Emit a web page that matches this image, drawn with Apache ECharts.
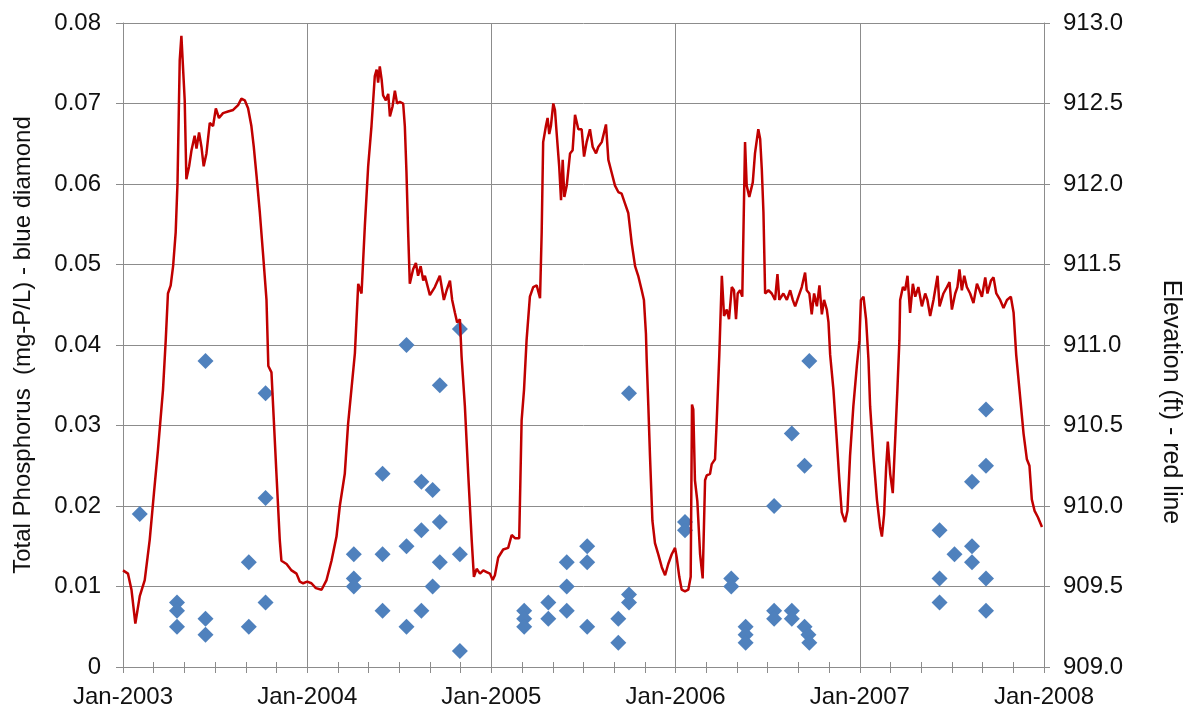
<!DOCTYPE html>
<html>
<head>
<meta charset="utf-8">
<title>Total Phosphorus and Elevation, 2003-2007</title>
<script src="https://cdn.jsdelivr.net/npm/echarts@6/dist/echarts.min.js"></script>
<style>
  html, body { margin: 0; padding: 0; background: #fff; }
  #chart { width: 1189px; height: 715px; }
</style>
</head>
<body>
<div id="chart"></div>
<script>
// Sample dates as decimal years, with the measured total phosphorus (mg-P/L)
const sampleDates = [
  2003.091,
  2003.293, 2003.293, 2003.293,
  2003.448, 2003.448, 2003.448,
  2003.683, 2003.683,
  2003.774, 2003.774, 2003.774,
  2004.253, 2004.253, 2004.253,
  2004.409, 2004.409, 2004.409,
  2004.539, 2004.539, 2004.539,
  2004.620, 2004.620, 2004.620,
  2004.681, 2004.681,
  2004.720, 2004.720, 2004.720,
  2004.829, 2004.829, 2004.829,
  2005.178, 2005.178, 2005.178,
  2005.309, 2005.309,
  2005.409, 2005.409, 2005.409,
  2005.520, 2005.520, 2005.520,
  2005.689, 2005.689,
  2005.747, 2005.747, 2005.747,
  2006.051, 2006.051,
  2006.302, 2006.302,
  2006.380, 2006.380, 2006.380,
  2006.535, 2006.535, 2006.535,
  2006.631, 2006.631, 2006.631,
  2006.700, 2006.700,
  2006.721, 2006.726, 2006.726,
  2007.433, 2007.433, 2007.433,
  2007.514,
  2007.609, 2007.609, 2007.609,
  2007.685, 2007.685, 2007.685, 2007.685
];
const phosphorus = [
  0.019,
  0.008, 0.007, 0.005,
  0.038, 0.006, 0.004,
  0.013, 0.005,
  0.034, 0.021, 0.008,
  0.014, 0.011, 0.010,
  0.024, 0.014, 0.007,
  0.040, 0.015, 0.005,
  0.023, 0.017, 0.007,
  0.022, 0.010,
  0.035, 0.018, 0.013,
  0.042, 0.014, 0.002,
  0.007, 0.006, 0.005,
  0.008, 0.006,
  0.013, 0.010, 0.007,
  0.015, 0.013, 0.005,
  0.006, 0.003,
  0.034, 0.009, 0.008,
  0.018, 0.017,
  0.011, 0.010,
  0.005, 0.004, 0.003,
  0.020, 0.007, 0.006,
  0.029, 0.007, 0.006,
  0.025, 0.005,
  0.004, 0.003, 0.038,
  0.017, 0.011, 0.008,
  0.014,
  0.023, 0.015, 0.013,
  0.032, 0.025, 0.011, 0.007
];

// Reservoir water-surface elevation record (ft)
const elevDates = [
  2003.000, 2003.027, 2003.046, 2003.067, 2003.091, 2003.118, 2003.145, 2003.168, 2003.190, 2003.217,
  2003.232, 2003.244, 2003.259, 2003.272, 2003.286, 2003.296, 2003.304, 2003.308, 2003.317, 2003.326,
  2003.335, 2003.344, 2003.359, 2003.372, 2003.389, 2003.399, 2003.413, 2003.426, 2003.438, 2003.453,
  2003.471, 2003.489, 2003.504, 2003.521, 2003.543, 2003.570, 2003.598, 2003.625, 2003.643, 2003.661,
  2003.679, 2003.697, 2003.710, 2003.725, 2003.743, 2003.760, 2003.779, 2003.789, 2003.806, 2003.815,
  2003.833, 2003.851, 2003.860, 2003.888, 2003.915, 2003.942, 2003.960, 2003.978, 2004.000, 2004.023,
  2004.047, 2004.078, 2004.105, 2004.132, 2004.159, 2004.177, 2004.204, 2004.222, 2004.259, 2004.277,
  2004.295, 2004.313, 2004.331, 2004.349, 2004.367, 2004.377, 2004.385, 2004.394, 2004.404, 2004.412,
  2004.427, 2004.440, 2004.449, 2004.463, 2004.476, 2004.488, 2004.503, 2004.521, 2004.530, 2004.539,
  2004.548, 2004.557, 2004.575, 2004.590, 2004.602, 2004.616, 2004.630, 2004.639, 2004.666, 2004.693,
  2004.720, 2004.742, 2004.757, 2004.775, 2004.787, 2004.802, 2004.814, 2004.829, 2004.838, 2004.856,
  2004.874, 2004.893, 2004.905, 2004.920, 2004.938, 2004.956, 2004.974, 2004.992, 2005.007, 2005.019,
  2005.037, 2005.064, 2005.091, 2005.110, 2005.128, 2005.151, 2005.164, 2005.177, 2005.191, 2005.209,
  2005.227, 2005.246, 2005.264, 2005.273, 2005.281, 2005.296, 2005.305, 2005.314, 2005.323, 2005.336,
  2005.345, 2005.354, 2005.368, 2005.378, 2005.387, 2005.396, 2005.409, 2005.427, 2005.441, 2005.454,
  2005.472, 2005.490, 2005.503, 2005.517, 2005.535, 2005.550, 2005.568, 2005.580, 2005.599, 2005.622,
  2005.635, 2005.653, 2005.671, 2005.689, 2005.707, 2005.725, 2005.743, 2005.762, 2005.780, 2005.797,
  2005.816, 2005.828, 2005.839, 2005.843, 2005.852, 2005.861, 2005.874, 2005.888, 2005.906, 2005.925,
  2005.943, 2005.960, 2005.979, 2005.997, 2006.006, 2006.020, 2006.033, 2006.051, 2006.069, 2006.082,
  2006.089, 2006.096, 2006.105, 2006.118, 2006.133, 2006.147, 2006.160, 2006.169, 2006.187, 2006.196,
  2006.214, 2006.223, 2006.237, 2006.251, 2006.263, 2006.278, 2006.290, 2006.305, 2006.317, 2006.328,
  2006.337, 2006.350, 2006.362, 2006.377, 2006.386, 2006.400, 2006.419, 2006.431, 2006.449, 2006.459,
  2006.468, 2006.477, 2006.486, 2006.504, 2006.522, 2006.540, 2006.553, 2006.563, 2006.585, 2006.604,
  2006.622, 2006.636, 2006.649, 2006.667, 2006.685, 2006.703, 2006.712, 2006.726, 2006.739, 2006.752,
  2006.767, 2006.781, 2006.794, 2006.806, 2006.821, 2006.830, 2006.839, 2006.857, 2006.875, 2006.889,
  2006.902, 2006.920, 2006.933, 2006.947, 2006.965, 2006.984, 2006.998, 2007.006, 2007.020, 2007.034,
  2007.047, 2007.056, 2007.074, 2007.093, 2007.110, 2007.120, 2007.132, 2007.143, 2007.152, 2007.165,
  2007.179, 2007.192, 2007.204, 2007.215, 2007.219, 2007.234, 2007.246, 2007.259, 2007.273, 2007.288,
  2007.301, 2007.318, 2007.337, 2007.355, 2007.367, 2007.382, 2007.400, 2007.422, 2007.433, 2007.454,
  2007.473, 2007.487, 2007.500, 2007.518, 2007.530, 2007.541, 2007.554, 2007.567, 2007.581, 2007.599,
  2007.617, 2007.636, 2007.650, 2007.663, 2007.681, 2007.693, 2007.712, 2007.726, 2007.741, 2007.762,
  2007.780, 2007.799, 2007.820, 2007.835, 2007.849, 2007.867, 2007.889, 2007.907, 2007.921, 2007.934,
  2007.949, 2007.967, 2007.989
];
const elevFeet = [
  909.60, 909.58, 909.48, 909.27, 909.44, 909.54, 909.79, 910.08, 910.35, 910.72,
  911.03, 911.32, 911.37, 911.49, 911.70, 912.01, 912.52, 912.77, 912.92, 912.91,
  912.52, 912.03, 912.11, 912.21, 912.30, 912.22, 912.32, 912.23, 912.11, 912.19,
  912.38, 912.36, 912.47, 912.41, 912.44, 912.45, 912.46, 912.49, 912.53, 912.52,
  912.47, 912.36, 912.23, 912.05, 911.82, 911.57, 911.28, 910.87, 910.83, 910.62,
  910.20, 909.79, 909.66, 909.64, 909.60, 909.58, 909.53, 909.52, 909.53, 909.52,
  909.49, 909.48, 909.54, 909.66, 909.81, 910.00, 910.20, 910.51, 910.95, 911.38,
  911.32, 911.74, 912.11, 912.36, 912.67, 912.71, 912.63, 912.73, 912.65, 912.55,
  912.52, 912.56, 912.42, 912.48, 912.58, 912.50, 912.51, 912.50, 912.36, 912.07,
  911.70, 911.38, 911.47, 911.51, 911.43, 911.49, 911.40, 911.43, 911.31, 911.36,
  911.43, 911.28, 911.34, 911.40, 911.28, 911.20, 911.14, 911.16, 910.93, 910.62,
  910.20, 909.79, 909.56, 909.61, 909.58, 909.60, 909.59, 909.58, 909.54, 909.57,
  909.68, 909.73, 909.74, 909.82, 909.80, 909.80, 910.53, 910.72, 911.03, 911.30,
  911.36, 911.37, 911.29, 911.70, 912.26, 912.36, 912.41, 912.31, 912.36, 912.50,
  912.46, 912.32, 912.11, 911.90, 912.15, 911.92, 911.99, 912.19, 912.21, 912.43,
  912.34, 912.34, 912.17, 912.26, 912.34, 912.23, 912.19, 912.23, 912.26, 912.37,
  912.15, 912.07, 911.99, 911.95, 911.94, 911.88, 911.82, 911.63, 911.49, 911.43,
  911.34, 911.28, 911.07, 910.91, 910.62, 910.31, 909.91, 909.77, 909.70, 909.62,
  909.57, 909.64, 909.70, 909.74, 909.68, 909.56, 909.48, 909.47, 909.48, 909.56,
  910.63, 910.60, 910.16, 910.03, 909.70, 909.55, 910.16, 910.19, 910.20, 910.26,
  910.29, 910.52, 910.93, 911.43, 911.18, 911.22, 911.16, 911.36, 911.34, 911.16,
  911.32, 911.34, 911.30, 912.26, 911.99, 911.92, 912.01, 912.19, 912.34, 912.28,
  912.09, 911.82, 911.32, 911.34, 911.32, 911.28, 911.44, 911.28, 911.32, 911.28,
  911.34, 911.28, 911.24, 911.30, 911.36, 911.45, 911.34, 911.32, 911.19, 911.32,
  911.24, 911.37, 911.19, 911.28, 911.22, 911.14, 910.94, 910.72, 910.41, 910.16,
  909.96, 909.90, 909.97, 910.31, 910.62, 910.87, 911.03, 911.28, 911.30, 911.16,
  910.91, 910.62, 910.31, 910.04, 909.87, 909.81, 909.95, 910.24, 910.40, 910.20,
  910.08, 910.41, 910.72, 911.03, 911.28, 911.36, 911.34, 911.43, 911.20, 911.38,
  911.30, 911.36, 911.24, 911.32, 911.28, 911.18, 911.28, 911.43, 911.24, 911.32,
  911.36, 911.39, 911.22, 911.32, 911.36, 911.47, 911.34, 911.43, 911.36, 911.32,
  911.26, 911.38, 911.34, 911.30, 911.42, 911.32, 911.40, 911.42, 911.32, 911.28,
  911.23, 911.28, 911.30, 911.20, 910.94, 910.72, 910.45, 910.29, 910.25, 910.04,
  909.97, 909.93, 909.87
];

// Axis tick labels
const yearLabels = ['Jan-2003', 'Jan-2004', 'Jan-2005', 'Jan-2006', 'Jan-2007', 'Jan-2008'];
const phosTicks = ['0', '0.01', '0.02', '0.03', '0.04', '0.05', '0.06', '0.07', '0.08'];
const elevTicks = ['909.0', '909.5', '910.0', '910.5', '911.0', '911.5', '912.0', '912.5', '913.0'];

const FONT = '"Liberation Sans", Arial, sans-serif';
const TEXT = '#111111';
const GRID = '#8c8c8c';

const chart = echarts.init(document.getElementById('chart'), null, { renderer: 'canvas' });

const tpPoints = sampleDates.map((d, i) => [d, phosphorus[i]]);
const elevPoints = elevDates.map((d, i) => [d, elevFeet[i]]);

chart.setOption({
  animation: false,
  backgroundColor: '#ffffff',
  grid: { left: 123, right: 145, top: 23, bottom: 48, containLabel: false },
  xAxis: [
    {
      type: 'value', min: 2003, max: 2008, interval: 1,
      position: 'bottom',
      axisLine: { show: true, onZero: false, lineStyle: { color: GRID, width: 1 } },
      axisTick: { show: true, length: 6, lineStyle: { color: GRID } },
      minorTick: { show: true, splitNumber: 6, length: 6, lineStyle: { color: GRID } },
      splitLine: { show: true, lineStyle: { color: GRID, width: 1 } },
      axisLabel: {
        show: true, margin: 18, fontSize: 24, fontFamily: FONT, color: TEXT,
        showMinLabel: true, showMaxLabel: true,
        formatter: v => yearLabels[Math.round(v - 2003)]
      }
    },
    {
      // tick marks reaching just inside the plot, so they cross the axis line
      type: 'value', min: 2003, max: 2008, interval: 1,
      position: 'bottom',
      axisLine: { show: false, onZero: false },
      axisTick: { show: true, inside: true, length: 5, lineStyle: { color: GRID } },
      minorTick: { show: true, splitNumber: 6, length: 5, lineStyle: { color: GRID } },
      splitLine: { show: false },
      axisLabel: { show: false }
    }
  ],
  yAxis: [
    {
      type: 'value', min: 0, max: 0.08, interval: 0.01,
      position: 'left',
      axisLine: { show: true, lineStyle: { color: GRID, width: 1 } },
      axisTick: { show: true, length: 7, lineStyle: { color: GRID } },
      splitLine: { show: true, lineStyle: { color: GRID, width: 1 } },
      axisLabel: {
        margin: 22, fontSize: 24, fontFamily: FONT, color: TEXT,
        formatter: v => phosTicks[Math.round(v * 100)]
      }
    },
    {
      type: 'value', min: 909, max: 913, interval: 0.5,
      position: 'right',
      axisLine: { show: true, lineStyle: { color: GRID, width: 1 } },
      axisTick: { show: true, length: 6, lineStyle: { color: GRID } },
      splitLine: { show: false },
      axisLabel: {
        margin: 19, fontSize: 24, fontFamily: FONT, color: TEXT,
        formatter: v => elevTicks[Math.round((v - 909) * 2)]
      }
    }
  ],
  graphic: [
    {
      type: 'text', x: 23, y: 345, rotation: Math.PI / 2,
      style: {
        text: 'Total Phosphorus  (mg-P/L) - blue diamond',
        font: '24px ' + FONT, fill: TEXT,
        textAlign: 'center', textVerticalAlign: 'middle'
      }
    },
    {
      type: 'text', x: 1171, y: 402, rotation: -Math.PI / 2,
      style: {
        text: 'Elevation (ft) - red line',
        font: '25px ' + FONT, fill: TEXT,
        textAlign: 'center', textVerticalAlign: 'middle'
      }
    }
  ],
  series: [
    {
      name: 'Total Phosphorus',
      type: 'scatter',
      xAxisIndex: 0, yAxisIndex: 0,
      symbol: 'diamond', symbolSize: [16, 16],
      itemStyle: { color: '#4F81BD', opacity: 1 },
      data: tpPoints,
      z: 2
    },
    {
      name: 'Elevation',
      type: 'line',
      xAxisIndex: 0, yAxisIndex: 1,
      showSymbol: false, symbol: 'none',
      lineStyle: { color: '#C00000', width: 2.5 },
      data: elevPoints,
      z: 3
    }
  ]
});
</script>
</body>
</html>
